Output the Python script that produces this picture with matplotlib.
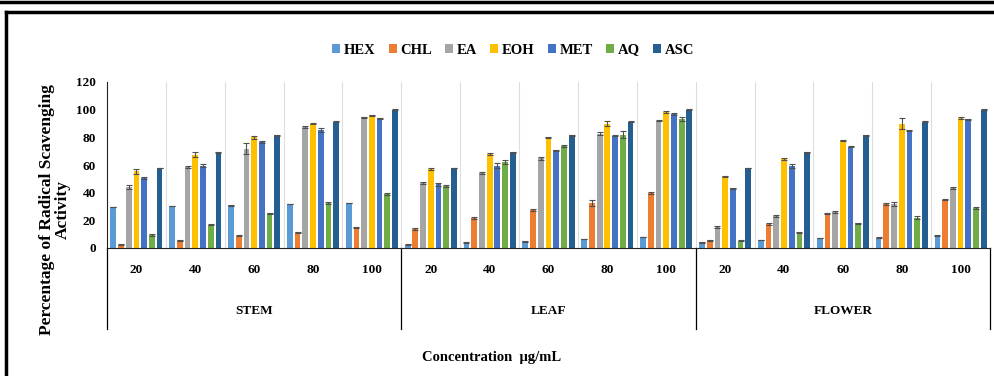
import numpy as np
import matplotlib
matplotlib.use("Agg")
from matplotlib import pyplot as plt
from matplotlib.lines import Line2D

plt.rcParams['font.family'] = ['Liberation Serif', 'DejaVu Serif']
plt.rcParams['font.weight'] = 'bold'

# data
parts = ['STEM', 'LEAF', 'FLOWER']
concs = ['20', '40', '60', '80', '100']
series = ['HEX', 'CHL', 'EA', 'EOH', 'MET', 'AQ', 'ASC']
colors = ['#5B9BD5', '#ED7D31', '#A5A5A5', '#FFC000', '#4472C4', '#70AD47', '#255E91']

# each list: STEM 20..100, LEAF 20..100, FLOWER 20..100
HEX = [29.6, 30.4, 31.0, 31.8, 32.5, 2.4, 3.9, 4.8, 6.5, 8.0, 4.1, 5.8, 7.2, 7.5, 9.2]
CHL = [2.4, 5.5, 8.9, 11.3, 14.7, 13.7, 21.7, 27.7, 32.5, 39.8, 5.5, 17.3, 25.0, 31.8, 35.0]
EA = [44.0, 58.6, 71.6, 87.5, 94.5, 47.0, 54.0, 64.8, 82.7, 92.0, 15.2, 23.4, 26.0, 32.0, 43.4]
EOH = [55.4, 67.5, 80.0, 90.0, 96.0, 57.3, 68.0, 79.8, 90.0, 98.5, 51.8, 64.3, 77.8, 90.0, 94.2]
MET = [50.6, 59.5, 76.6, 85.5, 93.7, 46.0, 59.5, 70.8, 81.2, 96.9, 43.1, 59.5, 73.3, 84.8, 93.0]
AQ = [9.6, 16.9, 25.0, 32.5, 39.0, 44.6, 62.4, 74.0, 82.0, 93.0, 5.3, 11.3, 17.8, 21.9, 28.9]
ASC = [57.8, 69.2, 81.4, 91.3, 100.0, 57.8, 69.2, 81.4, 91.3, 100.0, 57.8, 69.2, 81.4, 91.3, 100.0]

HEX_err = [0.3, 0.3, 0.3, 0.3, 0.3, 0.2, 0.2, 0.2, 0.2, 0.2, 0.2, 0.2, 0.2, 0.2, 0.2]
CHL_err = [0.3, 0.4, 0.4, 0.4, 0.5, 0.4, 0.5, 0.6, 2.0, 0.8, 0.3, 0.5, 0.5, 0.5, 0.6]
EA_err = [1.2, 0.6, 4.0, 0.5, 0.5, 0.5, 0.8, 1.0, 0.8, 0.5, 0.6, 0.8, 0.5, 1.5, 0.8]
EOH_err = [2.0, 2.0, 1.0, 0.6, 0.5, 0.6, 0.6, 0.5, 1.5, 0.6, 0.5, 0.6, 0.6, 4.0, 0.8]
MET_err = [0.4, 1.0, 0.4, 1.5, 0.5, 1.0, 2.0, 0.4, 0.4, 0.5, 0.4, 1.5, 0.5, 0.4, 0.4]
AQ_err = [0.6, 0.6, 0.5, 0.6, 0.8, 0.8, 1.5, 0.8, 2.5, 1.5, 0.5, 0.6, 0.6, 1.0, 1.0]
ASC_err = [0.3, 0.3, 0.3, 0.3, 0.3, 0.3, 0.3, 0.3, 0.3, 0.3, 0.3, 0.3, 0.3, 0.3, 0.3]

values = [HEX, CHL, EA, EOH, MET, AQ, ASC]
errors = [HEX_err, CHL_err, EA_err, EOH_err, MET_err, AQ_err, ASC_err]

fig = plt.figure(figsize=(9.95, 3.76), dpi=100)
ax = fig.add_axes([107/995, 1 - 248/376, 883/995, 166/376])

ncat = len(parts) * len(concs)
x = np.arange(ncat)
width = 0.098
step = 0.131
for i, (name, vals, err, c) in enumerate(zip(series, values, errors, colors)):
    pos = x + (i - 3) * step
    ax.bar(pos, vals, width, color=c, label=name, zorder=2)
    ax.errorbar(pos, vals, yerr=err, fmt='none', ecolor='#505050',
                elinewidth=0.8, capsize=2, capthick=0.8, zorder=3)

ax.set_xlim(-0.5, ncat - 0.5)
ax.set_ylim(0, 120)
ax.set_yticks(range(0, 121, 20))
ax.tick_params(axis='y', length=0, labelsize=9.5, pad=8)
ax.set_xticks([])
for b in np.arange(0.5, ncat - 0.5, 1):
    ax.axvline(b, color='#dddddd', lw=0.8, zorder=0)
for s in ['top', 'right']:
    ax.spines[s].set_visible(False)
ax.spines['left'].set_color('#222222')
ax.spines['bottom'].set_color('#222222')

# two level category labels
trans = ax.get_xaxis_transform()
for k in range(ncat):
    ax.text(k, -0.13, concs[k % 5], transform=trans, ha='center', va='center',
            fontsize=9.5, fontweight='bold')
for g, name in enumerate(parts):
    ax.text(g * 5 + 2, -0.38, name, transform=trans, ha='center', va='center',
            fontsize=9.5, fontweight='bold')
for sx in [-0.5, 4.5, 9.5, 14.5]:
    ax.add_line(Line2D([sx, sx], [0, -0.49], transform=trans, color='black',
                       lw=0.9, clip_on=False))

ax.text(0.435, -0.66, 'Concentration  μg/mL', transform=ax.transAxes, ha='center',
        va='center', fontsize=10.5, fontweight='bold')
fig.text(55/995, 1 - 210/376, 'Percentage of Radical Scavenging\nActivity',
         rotation=90, ha='center', va='center', fontsize=12.5, fontweight='bold',
         linespacing=1.0)

leg = fig.legend(loc='center', bbox_to_anchor=(513/995, 1 - 50/376), ncol=7,
                 frameon=False, fontsize=10.5, handlelength=0.55, handleheight=0.55,
                 handletextpad=0.25, columnspacing=0.9)
for t in leg.get_texts():
    t.set_fontweight('bold')

# outer frame
fig.add_artist(Line2D([0, 1], [1 - 1.5/376, 1 - 1.5/376], color='black', lw=2.5))
fig.add_artist(Line2D([5.5/995, 1], [1 - 12/376, 1 - 12/376], color='black', lw=2.5))
fig.add_artist(Line2D([5.5/995, 5.5/995], [0, 1 - 12/376], color='black', lw=2.5))

fig.savefig('out.png', dpi=100)
